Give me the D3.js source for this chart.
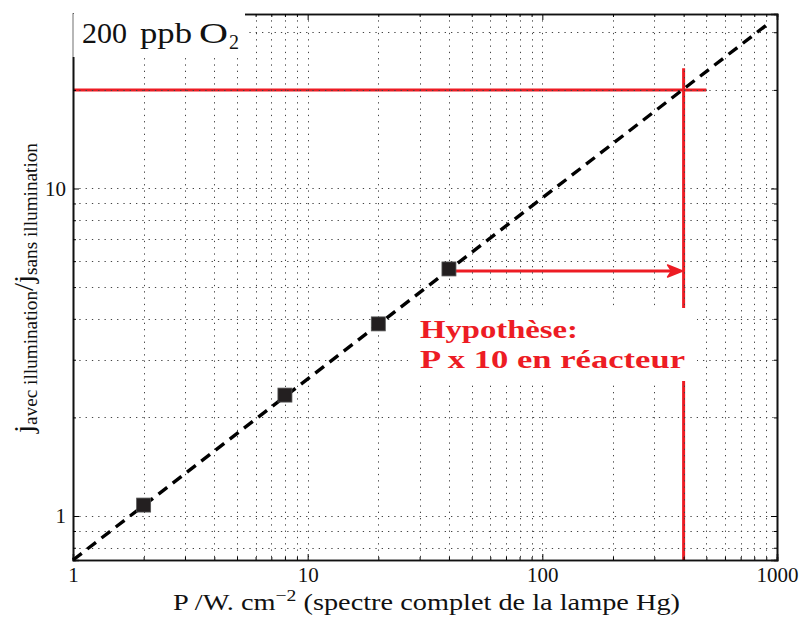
<!DOCTYPE html>
<html><head><meta charset="utf-8">
<script src="https://cdn.jsdelivr.net/npm/d3@7"></script>
<style>
body{margin:0;background:#fff;}
svg{display:block;}
svg text{font-family:"Liberation Serif","Times New Roman",serif;}
</style></head>
<body><svg id="c" width="799" height="618"></svg>
<script>
// ---- data ----
const powerP = [2, 8, 20, 40];
const ratioJ = [1.08, 2.34, 3.86, 5.68];
const fitP = [1, 920];
const fitJ = [0.734, 31.9];
const xTickValues = [1, 10, 100, 1000];
const yTickValues = [1, 10];
const xMinor = [2,3,4,5,6,7,8,9,20,30,40,50,60,70,80,90,200,300,400,500,600,700,800,900];
const yMinor = [0.8,0.9,2,3,4,5,6,7,8,9,20,30];
const refJ = 20, refPEnd = 500;          // horizontal red line
const targetP = 400, targetTopJ = 23.3;  // vertical red line
const arrowFromP = 40, arrowJ = 5.6;     // red arrow

const svg = d3.select("#c");
const L = 73, R = 777, T = 14, B = 560;
const x = d3.scaleLog().domain([1, 1000]).range([L, R]);
const y = d3.scaleLog().domain([0.734, 34.1]).range([B, T]);
const red = "#ed1c24";

// red reference lines (under the grid)
const gRed = svg.append("g");
gRed.append("line").attr("x1", x(1)).attr("x2", x(refPEnd)).attr("y1", y(refJ)).attr("y2", y(refJ))
  .attr("stroke", red).attr("stroke-width", 3);
gRed.append("line").attr("x1", x(targetP)).attr("x2", x(targetP)).attr("y1", y(targetTopJ)).attr("y2", B)
  .attr("stroke", red).attr("stroke-width", 3);
// arrow
const ax0 = x(arrowFromP), ax1 = x(targetP) - 1, ay = y(arrowJ);
gRed.append("line").attr("x1", ax0).attr("x2", ax1 - 4).attr("y1", ay).attr("y2", ay)
  .attr("stroke", red).attr("stroke-width", 3);
gRed.append("path").attr("d", `M${ax1-15},${ay-6} L${ax1},${ay} L${ax1-15},${ay+6} L${ax1-11},${ay} Z`)
  .attr("fill", red).attr("stroke", red).attr("stroke-width", 1.5).attr("stroke-linejoin", "round");

// grid
const gGrid = svg.append("g").attr("stroke", "#444").attr("stroke-width", 1).attr("stroke-dasharray", "1.3,5");
gGrid.selectAll("line.v").data(xMinor.concat([10, 100])).join("line")
  .attr("x1", d => Math.round(x(d)) + 0.5).attr("x2", d => Math.round(x(d)) + 0.5)
  .attr("y1", T).attr("y2", B);
gGrid.selectAll("line.h").data(yMinor.concat([1, 10])).join("line")
  .attr("x1", L).attr("x2", R)
  .attr("y1", d => Math.round(y(d)) + 0.5).attr("y2", d => Math.round(y(d)) + 0.5);

// axes
svg.append("g").attr("transform", `translate(0,${B})`)
  .call(d3.axisBottom(x).tickValues(xTickValues).tickFormat(d3.format("d")).tickSize(-6).tickPadding(7));
svg.append("g").attr("transform", `translate(${L},0)`)
  .call(d3.axisLeft(y).tickValues(yTickValues).tickFormat(d3.format("d")).tickSize(-6).tickPadding(7));
svg.append("g").attr("transform", `translate(0,${T})`)
  .call(d3.axisTop(x).tickValues(xTickValues).tickFormat("").tickSize(-6));
svg.append("g").attr("transform", `translate(${R},0)`)
  .call(d3.axisRight(y).tickValues(yTickValues).tickFormat("").tickSize(-6));
// minor ticks
svg.append("g").attr("transform", `translate(0,${B})`).call(d3.axisBottom(x).tickValues(xMinor).tickFormat("").tickSize(-3));
svg.append("g").attr("transform", `translate(0,${T})`).call(d3.axisTop(x).tickValues(xMinor).tickFormat("").tickSize(-3));
svg.append("g").attr("transform", `translate(${L},0)`).call(d3.axisLeft(y).tickValues(yMinor).tickFormat("").tickSize(-3));
svg.append("g").attr("transform", `translate(${R},0)`).call(d3.axisRight(y).tickValues(yMinor).tickFormat("").tickSize(-3));
svg.selectAll(".domain").attr("stroke", "#111").attr("stroke-width", 1.6);
svg.selectAll(".tick text").style("font-family", "'Liberation Serif', serif").style("font-size", "21px").attr("fill", "#111");

// fit line
const line = d3.line().x(d => x(d[0])).y(d => y(d[1]));
svg.append("path").datum(d3.zip(fitP, fitJ)).attr("d", line)
  .attr("fill", "none").attr("stroke", "#000").attr("stroke-width", 3.4).attr("stroke-dasharray", "11,7");

// markers
const ms = 14;
svg.selectAll("rect.m").data(d3.zip(powerP, ratioJ)).join("rect")
  .attr("x", d => x(d[0]) - ms/2).attr("y", d => y(d[1]) - ms/2)
  .attr("width", ms).attr("height", ms).attr("fill", "#231f20").attr("stroke", "#555").attr("stroke-width", 0.8);

// annotation box (hides grid and red line)
svg.append("rect").attr("x", 408).attr("y", 308).attr("width", 289).attr("height", 73).attr("fill", "#fff");
svg.append("text").attr("x", 420).attr("y", 338).attr("fill", red).attr("font-weight", "bold")
  .attr("font-size", "26px").attr("textLength", 158).attr("lengthAdjust", "spacingAndGlyphs").text("Hypothèse:");
svg.append("text").attr("x", 420).attr("y", 368).attr("fill", red).attr("font-weight", "bold")
  .attr("font-size", "26px").attr("textLength", 265).attr("lengthAdjust", "spacingAndGlyphs").text("P x 10 en réacteur");

// title box
svg.append("rect").attr("x", 74).attr("y", 8).attr("width", 171).attr("height", 49).attr("fill", "#fff");
svg.append("line").attr("x1", L).attr("x2", L).attr("y1", T).attr("y2", 57).attr("stroke", "#fff").attr("stroke-width", 2);
svg.append("line").attr("x1", L).attr("x2", L).attr("y1", T).attr("y2", 57).attr("stroke", "#999").attr("stroke-width", 1.4);
const tt = svg.append("g").attr("font-size", "30px").attr("fill", "#111");
tt.append("text").attr("x", 82).attr("y", 43).attr("textLength", 45).attr("lengthAdjust", "spacingAndGlyphs").text("200");
tt.append("text").attr("x", 140).attr("y", 43).attr("textLength", 52).attr("lengthAdjust", "spacingAndGlyphs").text("ppb");
tt.append("text").attr("x", 199).attr("y", 43).attr("textLength", 29).attr("lengthAdjust", "spacingAndGlyphs").text("O");
tt.append("text").attr("x", 229).attr("y", 49).attr("font-size", "20px").text("2");

// x label
const xl = svg.append("text").attr("x", 173).attr("y", 610).attr("font-size", "23px").attr("fill", "#111")
  .attr("textLength", 507).attr("lengthAdjust", "spacingAndGlyphs");
xl.append("tspan").text("P  /W. cm");
xl.append("tspan").attr("dy", -9).attr("font-size", "16px").text("−2");
xl.append("tspan").attr("dy", 9).text(" (spectre complet de la lampe Hg)");

// y label
const yl = svg.append("text").attr("transform", `translate(33,288) rotate(-90)`).attr("text-anchor", "middle")
  .attr("font-size", "27px").attr("fill", "#111").attr("textLength", 290).attr("lengthAdjust", "spacingAndGlyphs");
yl.append("tspan").text("j");
yl.append("tspan").attr("dy", 4).attr("font-size", "18px").text("avec illumination");
yl.append("tspan").attr("dy", -4).text("/j");
yl.append("tspan").attr("dy", 4).attr("font-size", "18px").text("sans illumination");
</script>
</body></html>
